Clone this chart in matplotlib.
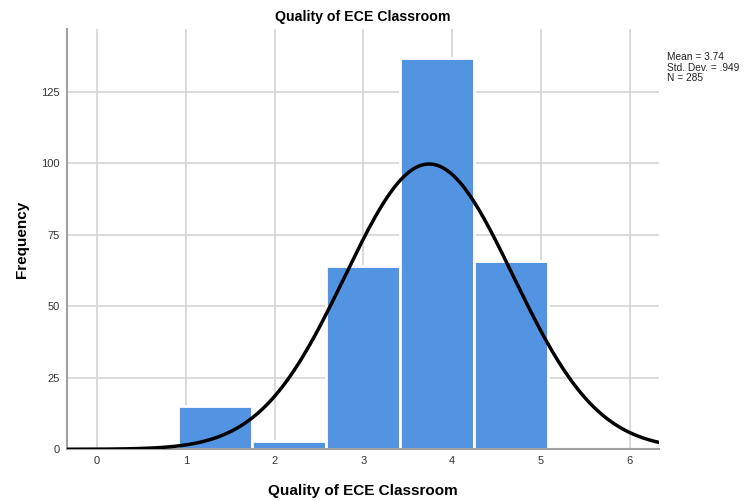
import numpy as np
import matplotlib
matplotlib.use("Agg")
import matplotlib.pyplot as plt

# histogram data
bin_edges = [0.915, 1.748, 2.581, 3.414, 4.247, 5.08]
counts = [15, 3, 64, 137, 66]
mean = 3.74
std = 0.949
n = 285

plt.rcParams['font.family'] = ['Liberation Sans', 'DejaVu Sans']

fig = plt.figure(figsize=(7.47, 5.01), dpi=100)
ax = fig.add_axes([0.0897, 0.1032, 0.7925, 0.8388])

widths = np.diff(bin_edges)
ax.bar(bin_edges[:-1], counts, width=widths, align='edge', color='#5294e2',
       edgecolor='white', linewidth=2, zorder=2)

# normal curve scaled to counts
xs = np.linspace(-0.34, 6.33, 400)
bw = widths.mean()
ys = n * bw * np.exp(-0.5 * ((xs - mean) / std) ** 2) / (std * np.sqrt(2 * np.pi))
ax.plot(xs, ys, color='black', linewidth=2.5, zorder=3)

ax.set_xlim(-0.34, 6.33)
ax.set_ylim(0, 147)
ax.set_xticks(range(0, 7))
ax.set_yticks([0, 25, 50, 75, 100, 125])
ax.grid(True, color='#d4d4d4', linewidth=1.2, zorder=0)
ax.set_axisbelow(True)
ax.tick_params(length=0, labelsize=8, colors='#333333', pad=5)
for s in ['top', 'right']:
    ax.spines[s].set_visible(False)
for s in ['left', 'bottom']:
    ax.spines[s].set_color('#a0a0a0')
    ax.spines[s].set_linewidth(1.5)

ax.set_title('Quality of ECE Classroom', fontsize=10.2, fontweight='bold', pad=6)
ax.set_xlabel('Quality of ECE Classroom', fontsize=11, fontweight='bold', labelpad=13)
ax.set_ylabel('Frequency', fontsize=11, fontweight='bold', labelpad=9)

fig.text(0.893, 0.865, 'Mean = 3.74\nStd. Dev. = .949\nN = 285', fontsize=7.3,
         va='center', ha='left', linespacing=1.05, color='#222222')

fig.savefig('out.png', dpi=100)
